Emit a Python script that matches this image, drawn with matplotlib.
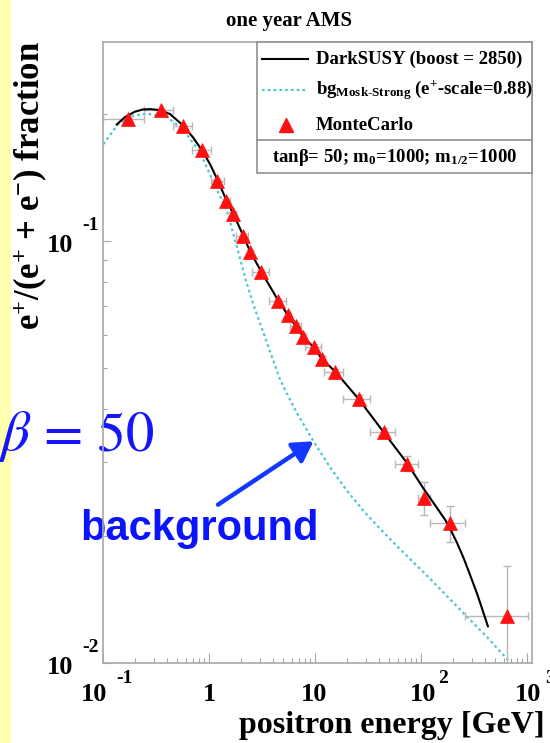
import matplotlib
matplotlib.use("Agg")
import matplotlib.pyplot as plt
import matplotlib.transforms as mtransforms
from matplotlib.patches import Rectangle
from matplotlib.lines import Line2D
from matplotlib.ticker import LogLocator, NullFormatter
import numpy as np

# ---------------- data ----------------
# MonteCarlo positron fraction, one year of AMS
mc_energy = [0.170, 0.348, 0.570, 0.862, 1.19, 1.44, 1.67, 2.08, 2.43, 3.10, 4.50, 5.52,
             6.57, 7.65, 9.64, 11.6, 15.5, 25.7, 44.2, 73.5, 106, 188, 647]
mc_fraction = [0.195, 0.204, 0.187, 0.164, 0.139, 0.1245, 0.116, 0.103, 0.094, 0.0843, 0.072,
               0.0666, 0.0628, 0.0593, 0.0561, 0.0524, 0.049, 0.0422, 0.0352, 0.0296, 0.0246,
               0.0214, 0.0129]
mc_bin_low = [0.1, 0.242, 0.451, 0.689, 1.03, 1.38, 1.57, 1.79, 2.33, 2.54, 3.70, 5.29, 5.81,
              7.33, 8.05, 11.3, 12.2, 18.5, 32.6, 57.0, 92.6, 120, 257]
mc_bin_high = [0.242, 0.451, 0.689, 1.03, 1.38, 1.57, 1.79, 2.33, 2.54, 3.70, 5.29, 5.81, 7.33,
               8.05, 11.3, 12.2, 18.5, 32.6, 57.0, 92.6, 120, 257, 1013]
mc_frac_low = [0.1935, 0.2025, 0.1855, 0.1625, 0.1378, 0.1235, 0.1150, 0.1020, 0.0930, 0.0834,
               0.0712, 0.0657, 0.0618, 0.0583, 0.0553, 0.0515, 0.0482, 0.0413, 0.0343, 0.02843,
               0.02243, 0.01928, 0.008]
mc_frac_high = [0.1965, 0.2055, 0.1885, 0.1655, 0.1402, 0.1255, 0.1170, 0.1040, 0.0950, 0.0852,
                0.0728, 0.0675, 0.0638, 0.0603, 0.0569, 0.0533, 0.0498, 0.0431, 0.0361, 0.03085,
                0.02677, 0.02347, 0.0170]

# DarkSUSY prediction (boost = 2850)
ds_energy = [0.134, 0.160, 0.199, 0.235, 0.276, 0.343, 0.427, 0.566, 0.704, 0.856, 1.02, 1.19,
             1.44, 1.68, 2.09, 2.43, 3.09, 4.47, 5.56, 6.61, 7.70, 9.57, 11.7, 15.5, 25.5, 43.9,
             74.0, 105, 136, 169, 193, 219, 253, 291, 343, 427]
ds_fraction = [0.189, 0.1967, 0.2027, 0.2050, 0.2055, 0.2044, 0.200, 0.188, 0.176, 0.164, 0.152,
               0.140, 0.1256, 0.1163, 0.1031, 0.0945, 0.0847, 0.0723, 0.0666, 0.0627, 0.0594,
               0.0561, 0.0524, 0.049, 0.0423, 0.0353, 0.0297, 0.0259, 0.0236, 0.0218, 0.0205,
               0.0192, 0.01765, 0.0161, 0.0144, 0.0122]

# background, Moskalenko-Strong (e+ scale = 0.88)
bg_energy = [0.100, 0.134, 0.144, 0.192, 0.239, 0.276, 0.397, 0.570, 0.820, 1.09, 1.47, 1.82,
             2.26, 2.71, 3.25, 3.90, 4.67, 5.60, 6.72, 9.64, 13.9, 19.9, 28.6, 40.8, 59.1, 122,
             252, 419, 696]
bg_fraction = [0.1697, 0.1876, 0.1911, 0.1981, 0.2000, 0.2000, 0.1972, 0.1834, 0.1622, 0.1382,
               0.1178, 0.0971, 0.0793, 0.0688, 0.0606, 0.0532, 0.0469, 0.0427, 0.0391, 0.0335,
               0.0290, 0.0256, 0.0229, 0.0208, 0.0189, 0.0158, 0.0131, 0.0115, 0.0100]

x_tick_values = [0.1, 1, 10, 100, 1000]
x_tick_main = ["10", "1", "10", "10", "10"]
x_tick_exp = ["-1", "", "", "2", "3"]
y_tick_values = [0.01, 0.1]
y_tick_main = ["10", "10"]
y_tick_exp = ["-2", "-1"]

# ---------------- style ----------------
plt.rcParams["font.family"] = ["Liberation Serif", "DejaVu Serif"]
plt.rcParams["font.weight"] = "bold"
plt.rcParams["mathtext.fontset"] = "custom"
plt.rcParams["mathtext.rm"] = "Liberation Serif:bold"
plt.rcParams["mathtext.it"] = "Liberation Serif:italic:bold"
plt.rcParams["mathtext.bf"] = "Liberation Serif:bold"
plt.rcParams["mathtext.default"] = "rm"

W, H = 550, 743
fig = plt.figure(figsize=(W / 100, H / 100), dpi=100)
fig.patch.set_facecolor("white")


def fx(px):
    return px / W


def fy(py):
    return 1 - py / H


# slide margin strip
fig.add_artist(Rectangle((0, 0), fx(11), 1, transform=fig.transFigure,
                         facecolor="#ffffb0", edgecolor="none", zorder=-3))

ax = fig.add_axes([fx(103.3), fy(662.7), (532.3 - 103.3) / W, (662.7 - 42.3) / H])
ax.set_facecolor("none")
ax.set_xscale("log")
ax.set_yscale("log")
ax.set_xlim(0.1, 1120)
ax.set_ylim(0.01, 0.296)

frame_col = "#a8a8a8"
for s in ax.spines.values():
    s.set_color(frame_col)
    s.set_linewidth(1.2)

for axis in (ax.xaxis, ax.yaxis):
    axis.set_major_locator(LogLocator(base=10, numticks=12))
    axis.set_minor_locator(LogLocator(base=10, subs=np.arange(2, 10), numticks=30))
    axis.set_minor_formatter(NullFormatter())
ax.tick_params(which="both", direction="in", color=frame_col, labelbottom=False,
               labelleft=False, top=False, right=False)
ax.tick_params(axis="x", which="major", length=7.2, width=0.8)
ax.tick_params(axis="x", which="minor", length=3.6, width=0.8)
ax.tick_params(axis="y", which="major", length=6, width=0.8)
ax.tick_params(axis="y", which="minor", length=3, width=0.8)

# curves
bg_style = dict(color="#4cc6cf", lw=1.6, ls=(0, (1.2, 1.4)))
ax.plot(bg_energy, bg_fraction, zorder=2, solid_joinstyle="round", **bg_style)
ax.plot(ds_energy, ds_fraction, color="black", lw=1.5, zorder=3, solid_joinstyle="round")

# MonteCarlo points with bin widths and statistical errors
e = np.array(mc_energy)
f = np.array(mc_fraction)
xerr = [e - np.array(mc_bin_low), np.array(mc_bin_high) - e]
yerr = [f - np.array(mc_frac_low), np.array(mc_frac_high) - f]
ax.errorbar(e, f, xerr=xerr, yerr=yerr, fmt="none", ecolor="#b8b8b8", elinewidth=1.0,
            capsize=2.8, capthick=1.0, zorder=2.5)
ax.plot(e, f, "^", color="#ff1010", ms=10, mec="#ff1010", mew=0.5, ls="none", zorder=4)

# tick labels in ROOT style (mantissa + raised exponent)
xb = mtransforms.blended_transform_factory(ax.transData, ax.transAxes)
yb = mtransforms.blended_transform_factory(ax.transAxes, ax.transData)
x_main_dx = [4, 0, -1, 15, 14]
x_exp_dx = [13, 0, 0, 17, 18]
for v, m, ex, mdx, edx in zip(x_tick_values, x_tick_main, x_tick_exp, x_main_dx, x_exp_dx):
    if ex:
        ax.annotate(m, xy=(v, 0), xycoords=xb, xytext=(mdx, -38), textcoords="offset pixels",
                    ha="right", va="baseline", fontsize=19, annotation_clip=False)
        ax.annotate(ex, xy=(v, 0), xycoords=xb, xytext=(edx, -20), textcoords="offset pixels",
                    ha="left", va="baseline", fontsize=14, annotation_clip=False)
    else:
        ax.annotate(m, xy=(v, 0), xycoords=xb, xytext=(mdx, -38), textcoords="offset pixels",
                    ha="center", va="baseline", fontsize=19, annotation_clip=False)
for v, m, ex in zip(y_tick_values, y_tick_main, y_tick_exp):
    ax.annotate(m, xy=(0, v), xycoords=yb, xytext=(-30, -11), textcoords="offset pixels",
                ha="right", va="baseline", fontsize=19, annotation_clip=False)
    ax.annotate(ex, xy=(0, v), xycoords=yb, xytext=(-21, 11), textcoords="offset pixels",
                ha="left", va="baseline", fontsize=14, annotation_clip=False)

# axis titles and plot title
fig.text(fx(289), fy(26), "one year AMS", ha="center", va="baseline", fontsize=15)
fig.text(fx(545), fy(733), "positron energy [GeV]", ha="right", va="baseline", fontsize=23)
fig.text(fx(30), fy(41), r"e$^{+}$/(e$^{+}$ + e$^{-}$) fraction", rotation=90,
         ha="center", va="top", fontsize=25)


# legend box
def ay(py):
    return (662.7 - py) / 620.4


def axf(px):
    return (px - 103.3) / 429.0


lx0 = axf(257)
ly_sep = ay(140)
ly0 = ay(173)
leg_col = "#909090"
ax.add_patch(Rectangle((lx0, ly0), 1 - lx0, 1 - ly0, transform=ax.transAxes, facecolor="white",
                       edgecolor=leg_col, lw=1.2, zorder=6, clip_on=False))
ax.add_line(Line2D([lx0, 1], [ly_sep, ly_sep], transform=ax.transAxes, color=leg_col, lw=1.2,
                   zorder=7, clip_on=False))

rows = [ay(59.3), ay(90), ay(125)]
ax.add_line(Line2D([axf(262), axf(308)], [rows[0]] * 2, transform=ax.transAxes, color="black",
                   lw=1.5, zorder=7, clip_on=False))
ax.add_line(Line2D([axf(262), axf(308)], [rows[1]] * 2, transform=ax.transAxes, zorder=7,
                   clip_on=False, **bg_style))
ax.add_line(Line2D([axf(285.7)], [rows[2]], transform=ax.transAxes, marker="^", color="#ff1010",
                   ms=10, ls="none", zorder=7, clip_on=False))
labels = ["DarkSUSY (boost = 2850)",
          "bg$_{\\mathrm{Mosk\u2010Strong}}$ (e$^{+}$-scale=0.88)",
          "MonteCarlo"]
for yy, lab in zip(rows, labels):
    ax.text(axf(316), yy, lab, transform=ax.transAxes, ha="left", va="center", fontsize=13.5,
            zorder=8)
ax.text(axf(394.5), ay(157), "tan\u03b2= 50; m$_{0}$=1000; m$_{1/2}$=1000", transform=ax.transAxes,
        ha="center", va="center", fontsize=13.5, zorder=8)

# annotation: arrow towards the background curve
k = bg_energy.index(9.64)
ax.annotate("", xy=(bg_energy[k], bg_fraction[k]), xytext=(1.21, 0.0237),
            arrowprops=dict(arrowstyle="-|>,head_length=0.6,head_width=0.35", color="#1238ff",
                            lw=3.2, mutation_scale=20, shrinkA=0, shrinkB=0), zorder=5)
fig.text(fx(80), fy(540), "background", ha="left", va="baseline", fontsize=30,
         fontweight="bold", family="Liberation Sans", color="#0a14ff", zorder=-1)
# large slide annotation for the tan(beta) value
fig.text(fx(0), fy(450), "\u03b2", ha="left", va="baseline", fontsize=41,
         family="STIXGeneral", fontstyle="italic", fontweight="normal", color="#1414ff",
         zorder=-1)
fig.text(fx(44), fy(450), "= 50", ha="left", va="baseline", fontsize=41,
         family="STIXGeneral", fontweight="normal", color="#1414ff", zorder=-1)

fig.savefig("out.png", dpi=100, facecolor="white")
